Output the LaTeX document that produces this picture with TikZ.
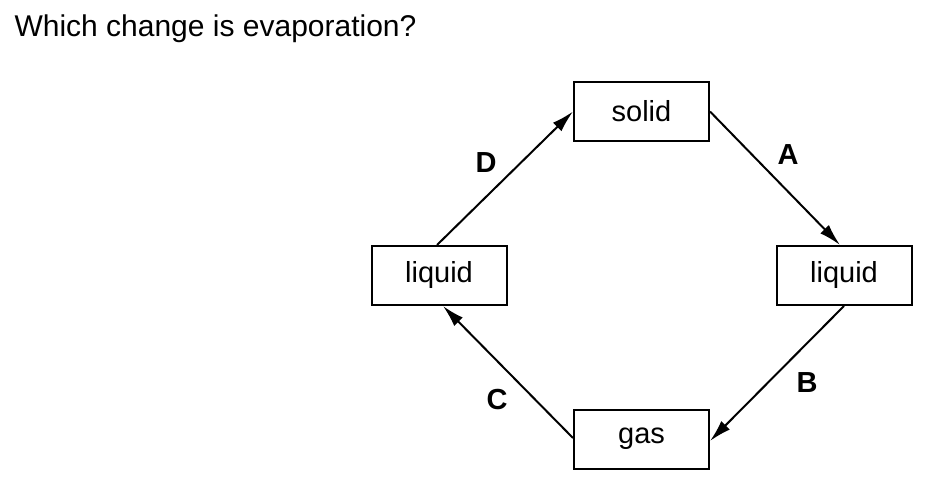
\documentclass[tikz,border=0pt]{standalone}
\usepackage{fontspec}
\setmainfont{Liberation Sans}
\usetikzlibrary{arrows.meta}

\begin{document}
\begin{tikzpicture}[x=1pt,y=-1pt,
			box/.style={draw,line width=2pt,minimum width=135pt,minimum height=59pt,
				inner sep=0pt,font=\fontsize{29}{33}\selectfont},
			lbl/.style={font=\fontsize{29}{33}\selectfont\bfseries},
			conn/.style={line width=2pt,-{Latex[length=22pt,width=12pt]}}]
		\useasboundingbox (0,0) rectangle (935,484);
		\node[anchor=base west,font=\fontsize{30}{36}\selectfont] (question) at (11,37)
			{Which change is evaporation?};
		\node[box] (solid) at (641.5,111.5) {solid};
		\node[box] (liqR) at (844,275.5) {liquid};
		\node[box] (liqL) at (439,275.5) {liquid};
		\node[box] (gas) at (641.5,439) {gas};
		\draw[conn] (solid.east) -- ([xshift=-4pt]liqR.north);
		\draw[conn] (liqR.south) -- ([yshift=-2pt]gas.east);
		\draw[conn] ([yshift=1pt]gas.west) -- ([xshift=4pt]liqL.south);
		\draw[conn] ([xshift=-2pt]liqL.north) -- (solid.west);
		\node[lbl] (lblA) at (788,155) {A};
		\node[lbl] (lblB) at (807,383) {B};
		\node[lbl] (lblC) at (497,400) {C};
		\node[lbl] (lblD) at (486,163) {D};
		\end{tikzpicture}
\end{document}
